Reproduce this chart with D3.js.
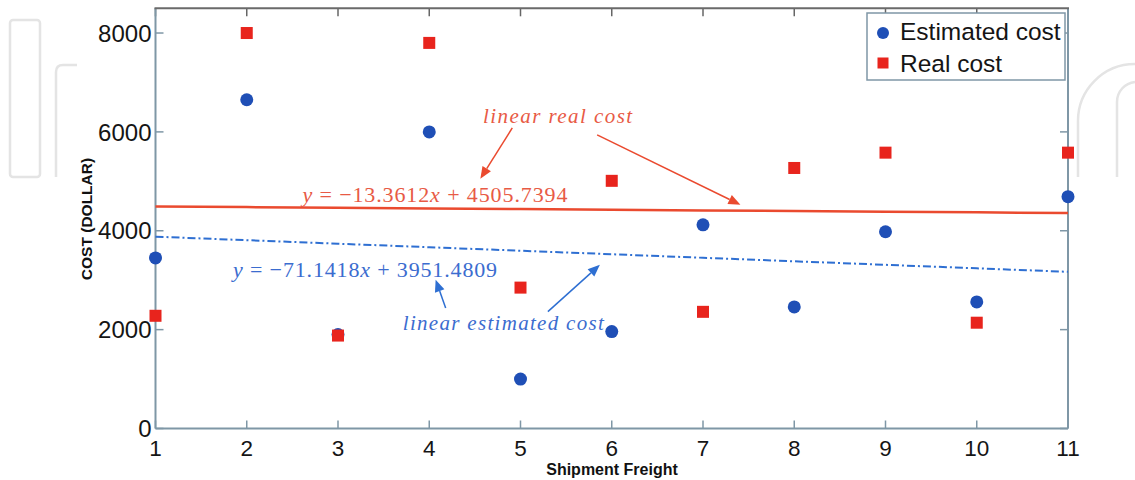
<!DOCTYPE html>
<html>
<head>
<meta charset="utf-8">
<script src="https://cdn.jsdelivr.net/npm/d3@7"></script>
<style>
  body { margin: 0; background: #fff; }
  svg { display: block; }
  text { font-family: "Liberation Sans", Arial, Helvetica, sans-serif; }
  .math { font-family: "Liberation Serif", "Times New Roman", serif; }
</style>
</head>
<body>
<div id="visual"></div>
<script>
// shipment freight index on the x axis
var freight = [1, 2, 3, 4, 5, 6, 7, 8, 9, 10, 11];
// costs (dollars)
var estimatedCost = [3450, 6650, 1900, 6000, 1000, 1960, 4120, 2460, 3980, 2560, 4690];
var realCost = [2280, 8000, 1880, 7800, 2850, 5010, 2360, 5270, 5580, 2140, 5580];
var yTicks = [0, 2000, 4000, 6000, 8000];
var xTicks = freight;
// linear fits [slope, intercept]
var realFit = [-13.3612, 4505.7394];
var estFit = [-71.1418, 3951.4809];

var width = 1135,
  height = 480;

var svg = d3
  .select("#visual")
  .append("svg")
  .attr("width", width)
  .attr("height", height);

var x = d3.scaleLinear().domain([1, 11]).range([155.5, 1068]);
var y = d3.scaleLinear().domain([0, 8500]).range([428.5, 8.3]);

var axisColor = "#7f97a6";
var red = "#e8241d",
  blue = "#1f4fb6",
  redLine = "#ea4a2f",
  blueLine = "#2e6fd2",
  redText = "#e85a45",
  blueText = "#3b6ccf";

// faint watermark outlines behind the chart
var wm = svg.append("g").attr("fill", "none").attr("stroke", "#e4e4e4").attr("stroke-width", 2.5);
wm.append("rect").attr("x", 10).attr("y", 20).attr("width", 30).attr("height", 157).attr("rx", 3);
wm.append("path").attr("d", "M56,177 V72 Q56,65 63,65 H77");
wm.append("path").attr("d", "M1078,177 V122 A57,57 0 0 1 1135,64");
wm.append("path").attr("d", "M1117,177 V102 A20,20 0 0 1 1135,82");

// plot background
svg.append("rect")
  .attr("x", x(1)).attr("y", y(8500))
  .attr("width", x(11) - x(1)).attr("height", y(0) - y(8500))
  .attr("fill", "#fff");

// tick labels
svg.append("g").selectAll("text").data(yTicks).enter().append("text")
  .attr("x", x(1) - 4)
  .attr("y", function(d) { return y(d); })
  .attr("dy", "0.36em")
  .attr("text-anchor", "end")
  .attr("font-size", 24)
  .attr("fill", "#151515")
  .text(function(d) { return d; });

svg.append("g").selectAll("text").data(xTicks).enter().append("text")
  .attr("x", function(d) { return x(d); })
  .attr("y", 456)
  .attr("text-anchor", "middle")
  .attr("font-size", 22.5)
  .attr("fill", "#151515")
  .text(function(d) { return d; });

// axis titles
svg.append("text")
  .attr("transform", "translate(92," + 219 + ") rotate(-90)")
  .attr("text-anchor", "middle")
  .attr("font-size", 15.5)
  .attr("font-weight", "bold")
  .attr("fill", "#111")
  .text("COST (DOLLAR)");

svg.append("text")
  .attr("x", 612)
  .attr("y", 475)
  .attr("text-anchor", "middle")
  .attr("font-size", 16)
  .attr("font-weight", "bold")
  .attr("fill", "#111")
  .text("Shipment Freight");

// ticks inward on all four sides
var ticks = svg.append("g").attr("stroke", axisColor).attr("stroke-width", 1.5);
yTicks.forEach(function(d) {
  ticks.append("line").attr("x1", x(1)).attr("x2", x(1) + 8).attr("y1", y(d)).attr("y2", y(d));
  ticks.append("line").attr("x1", x(11)).attr("x2", x(11) - 8).attr("y1", y(d)).attr("y2", y(d));
});
xTicks.forEach(function(d) {
  ticks.append("line").attr("x1", x(d)).attr("x2", x(d)).attr("y1", y(0)).attr("y2", y(0) - 8);
  ticks.append("line").attr("x1", x(d)).attr("x2", x(d)).attr("y1", y(8500)).attr("y2", y(8500) + 8)
    .attr("stroke", "#666");
});

// frame
svg.append("line").attr("x1", x(1)).attr("x2", x(1)).attr("y1", y(0)).attr("y2", y(8500))
  .attr("stroke", axisColor).attr("stroke-width", 2);
svg.append("line").attr("x1", x(11)).attr("x2", x(11)).attr("y1", y(0)).attr("y2", y(8500))
  .attr("stroke", axisColor).attr("stroke-width", 2);
svg.append("line").attr("x1", x(1)).attr("x2", x(11)).attr("y1", y(0)).attr("y2", y(0))
  .attr("stroke", axisColor).attr("stroke-width", 2);
svg.append("line").attr("x1", x(1) - 1).attr("x2", x(11) + 1).attr("y1", y(8500)).attr("y2", y(8500))
  .attr("stroke", "#6a6a6a").attr("stroke-width", 2);

// fit lines
function fitLine(fit) {
  return d3.line()
    .x(function(d) { return x(d); })
    .y(function(d) { return y(fit[0] * d + fit[1]); });
}
svg.append("path").datum(freight)
  .attr("d", fitLine(realFit))
  .attr("fill", "none").attr("stroke", redLine).attr("stroke-width", 2.5);
svg.append("path").datum(freight)
  .attr("d", fitLine(estFit))
  .attr("fill", "none").attr("stroke", blueLine).attr("stroke-width", 2)
  .attr("stroke-dasharray", "8,3,2,3");

// markers
svg.append("g").selectAll("circle").data(estimatedCost).enter().append("circle")
  .attr("cx", function(d, i) { return x(freight[i]); })
  .attr("cy", function(d) { return y(d); })
  .attr("r", 6.5)
  .attr("fill", blue);

svg.append("g").selectAll("rect").data(realCost).enter().append("rect")
  .attr("x", function(d, i) { return x(freight[i]) - 6; })
  .attr("y", function(d) { return y(d) - 6; })
  .attr("width", 12)
  .attr("height", 12)
  .attr("fill", red);

// annotations (positions in data units)
function arrow(color, from, to) {
  var x1 = x(from[0]), y1 = y(from[1]), x2 = x(to[0]), y2 = y(to[1]);
  var a = Math.atan2(y2 - y1, x2 - x1), len = 12, half = 5;
  var bx = x2 - len * Math.cos(a), by = y2 - len * Math.sin(a);
  svg.append("line")
    .attr("x1", x1).attr("y1", y1).attr("x2", bx).attr("y2", by)
    .attr("stroke", color).attr("stroke-width", 1.5);
  svg.append("path")
    .attr("d", "M" + x2 + "," + y2 +
      "L" + (bx + half * Math.sin(a)) + "," + (by - half * Math.cos(a)) +
      "L" + (bx - half * Math.sin(a)) + "," + (by + half * Math.cos(a)) + "Z")
    .attr("fill", color);
}

function equation(color, pos, slope, intercept, len) {
  var t = svg.append("text").attr("class", "math")
    .attr("x", x(pos[0])).attr("y", y(pos[1]))
    .attr("font-size", 22).attr("fill", color)
    .attr("textLength", len).attr("lengthAdjust", "spacing");
  t.append("tspan").attr("font-style", "italic").text("y");
  t.append("tspan").text(" = \u2212" + Math.abs(slope).toFixed(4));
  t.append("tspan").attr("font-style", "italic").text("x");
  t.append("tspan").text(" + " + intercept.toFixed(4));
}

function label(color, pos, str, len) {
  svg.append("text").attr("class", "math")
    .attr("x", x(pos[0])).attr("y", y(pos[1]))
    .attr("font-size", 21).attr("font-style", "italic").attr("fill", color)
    .attr("textLength", len).attr("lengthAdjust", "spacing")
    .text(str);
}

label(redText, [4.59, 6180], "linear real cost", 149);
arrow(redLine, [4.91, 6080], [4.56, 5050]);
arrow(redLine, [5.84, 5940], [7.41, 4525]);
equation(redText, [2.61, 4590], realFit[0], realFit[1], 265);

equation(blueText, [1.85, 3070], estFit[0], estFit[1], 264);
label(blueText, [3.71, 2000], "linear estimated cost", 201);
arrow(blueLine, [4.18, 2440], [4.07, 3010]);
arrow(blueLine, [5.30, 2365], [5.87, 3310]);

// legend
var lg = svg.append("g");
lg.append("rect")
  .attr("x", 867).attr("y", 13).attr("width", 198).attr("height", 67)
  .attr("fill", "#fff").attr("stroke", axisColor).attr("stroke-width", 1.5);
lg.append("circle").attr("cx", 883).attr("cy", 33).attr("r", 6).attr("fill", blue);
lg.append("rect").attr("x", 877.5).attr("y", 57.5).attr("width", 11).attr("height", 11).attr("fill", red);
lg.append("text").attr("x", 900).attr("y", 40).attr("font-size", 24.5).attr("fill", "#151515").text("Estimated cost");
lg.append("text").attr("x", 900).attr("y", 72).attr("font-size", 24.5).attr("fill", "#151515").text("Real cost");
</script>
</body>
</html>
